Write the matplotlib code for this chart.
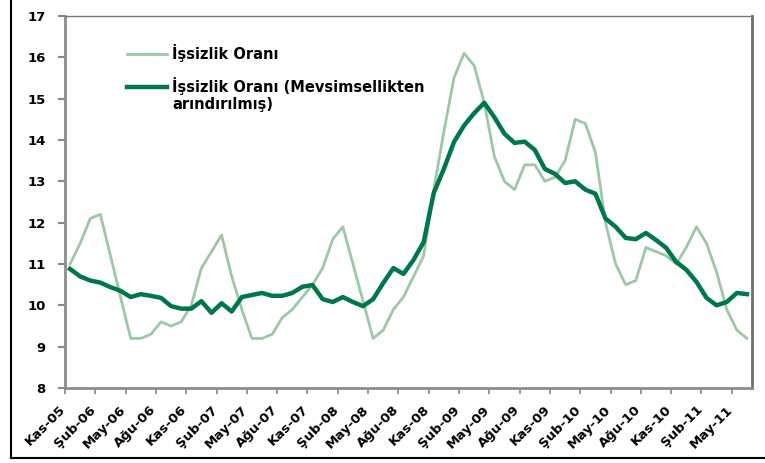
import numpy as np
import matplotlib
matplotlib.use("Agg")
import matplotlib.pyplot as plt
import matplotlib.transforms as mtransforms
from matplotlib.lines import Line2D
from matplotlib.legend_handler import HandlerLine2D

# monthly data, Kas-05 .. Haz-11
months = ['Kas-05', 'Ara-05', 'Oca-06', 'Şub-06', 'Mar-06', 'Nis-06', 'May-06', 'Haz-06', 'Tem-06',
          'Ağu-06', 'Eyl-06', 'Eki-06', 'Kas-06', 'Ara-06', 'Oca-07', 'Şub-07', 'Mar-07', 'Nis-07',
          'May-07', 'Haz-07', 'Tem-07', 'Ağu-07', 'Eyl-07', 'Eki-07', 'Kas-07', 'Ara-07', 'Oca-08',
          'Şub-08', 'Mar-08', 'Nis-08', 'May-08', 'Haz-08', 'Tem-08', 'Ağu-08', 'Eyl-08', 'Eki-08',
          'Kas-08', 'Ara-08', 'Oca-09', 'Şub-09', 'Mar-09', 'Nis-09', 'May-09', 'Haz-09', 'Tem-09',
          'Ağu-09', 'Eyl-09', 'Eki-09', 'Kas-09', 'Ara-09', 'Oca-10', 'Şub-10', 'Mar-10', 'Nis-10',
          'May-10', 'Haz-10', 'Tem-10', 'Ağu-10', 'Eyl-10', 'Eki-10', 'Kas-10', 'Ara-10', 'Oca-11',
          'Şub-11', 'Mar-11', 'Nis-11', 'May-11', 'Haz-11']

issizlik = [11.0, 11.5, 12.1, 12.2, 11.2, 10.2, 9.2, 9.2, 9.3, 9.6, 9.5, 9.6, 10.0, 10.9, 11.3, 11.7,
            10.7, 9.9, 9.2, 9.2, 9.3, 9.7, 9.9, 10.2, 10.5, 10.9, 11.6, 11.9, 11.0, 10.1, 9.2, 9.4,
            9.9, 10.2, 10.7, 11.2, 12.8, 14.2, 15.5, 16.1, 15.8, 14.9, 13.6, 13.0, 12.8, 13.4, 13.4,
            13.0, 13.1, 13.5, 14.5, 14.4, 13.7, 12.0, 11.0, 10.5, 10.6, 11.4, 11.3, 11.2, 11.0, 11.4,
            11.9, 11.5, 10.8, 9.9, 9.4, 9.2]

issizlik_sa = [10.88, 10.7, 10.6, 10.55, 10.44, 10.35, 10.2, 10.27, 10.23, 10.18, 9.98, 9.92, 9.92,
               10.1, 9.82, 10.05, 9.85, 10.2, 10.25, 10.3, 10.23, 10.23, 10.3, 10.45, 10.49, 10.15,
               10.08, 10.2, 10.08, 9.98, 10.15, 10.54, 10.9, 10.76, 11.1, 11.53, 12.72, 13.3, 13.95,
               14.35, 14.65, 14.9, 14.55, 14.15, 13.93, 13.96, 13.76, 13.3, 13.18, 12.96, 13.0, 12.8,
               12.7, 12.1, 11.9, 11.63, 11.6, 11.75, 11.58, 11.39, 11.05, 10.86, 10.57, 10.18, 10.0,
               10.08, 10.3, 10.27]

labels = ['İşsizlik Oranı', 'İşsizlik Oranı (Mevsimsellikten\narındırılmış)']


class FirstLineHandler(HandlerLine2D):
    # put the legend line next to the first text line instead of the middle
    def create_artists(self, legend, orig_handle, xdescent, ydescent, width, height, fontsize, trans):
        arts = super().create_artists(legend, orig_handle, xdescent, ydescent, width, height,
                                      fontsize, trans)
        for a in arts:
            a.set_ydata(np.asarray(a.get_ydata()) + 0.55 * fontsize)
        return arts


plt.rcParams['font.family'] = ['DejaVu Sans']
plt.rcParams['font.weight'] = 'bold'

fig = plt.figure(figsize=(7.65, 4.63), dpi=100)
ax = fig.add_axes([65 / 765, 75 / 463, 687 / 765, 372 / 463])

x = np.arange(len(months))
l1, = ax.plot(x, issizlik, color='#9cc8a6', lw=2.0, label=labels[0])
l2, = ax.plot(x, issizlik_sa, color='#00774a', lw=3.2, label=labels[1])

ax.set_xlim(-0.5, len(months) - 0.5)
ax.set_ylim(8, 17)
ax.set_yticks(range(8, 18))
ax.tick_params(axis='y', direction='out', length=5, width=1.5, color='#888888',
               labelsize=9.5, pad=9)

# tick marks between categories, one label per quarter
ax.set_xticks(np.arange(-0.5, len(months), 3))
ax.set_xticklabels(months[::3], rotation=45, ha='right', rotation_mode='anchor',
                   fontsize=9.5, fontweight='bold')
ax.tick_params(axis='x', direction='out', length=4, width=1.2, color='#888888', pad=4)
shift = mtransforms.ScaledTranslation(-6 / 100, -4 / 100, fig.dpi_scale_trans)
for lab in ax.get_xticklabels():
    lab.set_transform(lab.get_transform() + shift)

for s in ['left', 'bottom']:
    ax.spines[s].set_color('#8c8c8c')
    ax.spines[s].set_linewidth(2)
ax.spines['top'].set_color('#777777')
ax.spines['top'].set_linewidth(1)
ax.spines['right'].set_color('#6f6f6f')
ax.spines['right'].set_linewidth(2)

ax.legend(handles=[l1, l2], loc='upper left', bbox_to_anchor=(0.09, 0.924), frameon=False,
          handlelength=2.75, handletextpad=0.35, labelspacing=1.0, borderpad=0, borderaxespad=0,
          prop={'weight': 'bold', 'size': 10.5},
          handler_map={l2: FirstLineHandler()})

# outer frame lines
fig.add_artist(Line2D([11 / 765, 11 / 765], [5 / 463, 1.0], color='black', lw=1.5))
fig.add_artist(Line2D([11 / 765, 1.0], [5 / 463, 5 / 463], color='black', lw=1.5))

fig.savefig('out.png', dpi=100)
